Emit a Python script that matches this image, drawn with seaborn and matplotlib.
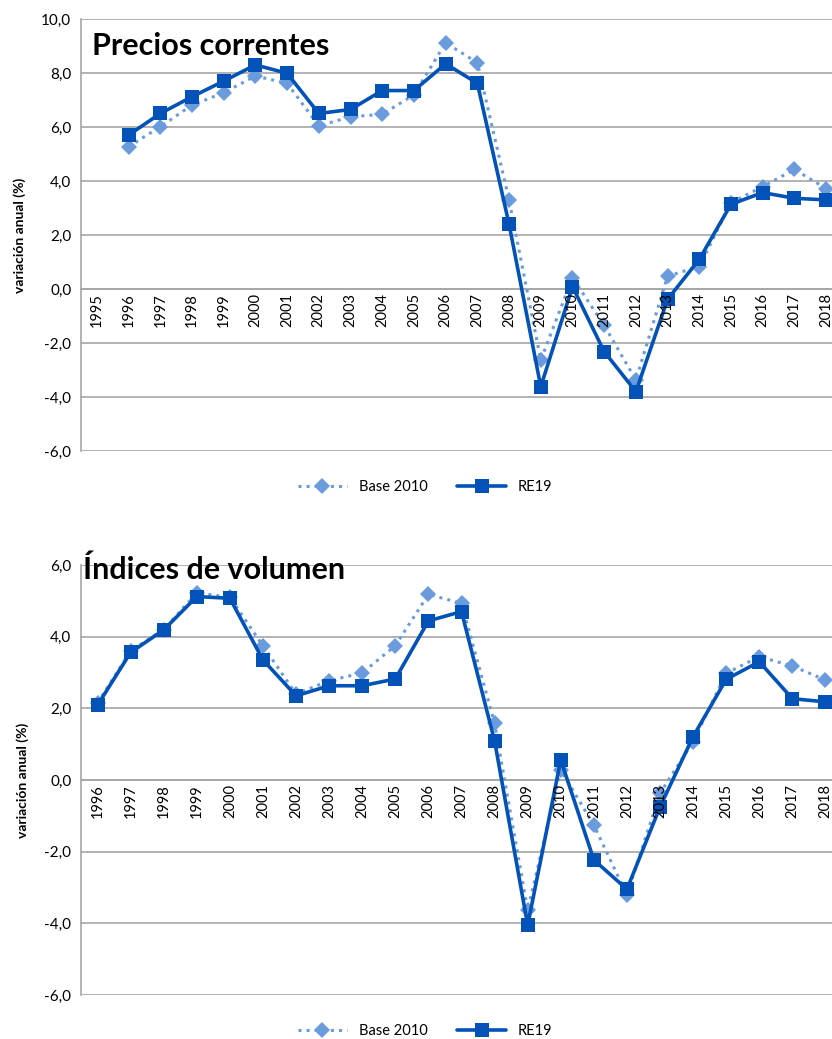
import numpy as np
import pandas as pd
import matplotlib
matplotlib.use('Agg')
import matplotlib.pyplot as plt
from matplotlib.lines import Line2D
from matplotlib.ticker import FuncFormatter
import seaborn as sns

# --- data ---
years_prices = [str(y) for y in range(1995, 2019)]
base2010_prices = [np.nan, 5.27, 6.01, 6.81, 7.27, 7.89, 7.62, 6.04, 6.38, 6.47, 7.19,
                   9.12, 8.38, 3.30, -2.63, 0.42, -1.35, -3.37, 0.48, 0.83, 3.20,
                   3.79, 4.43, 3.72]
re19_prices = [np.nan, 5.70, 6.50, 7.12, 7.70, 8.30, 7.99, 6.50, 6.65, 7.35, 7.35,
               8.34, 7.62, 2.40, -3.62, 0.09, -2.32, -3.80, -0.38, 1.10, 3.14,
               3.57, 3.36, 3.30]

years_volume = [str(y) for y in range(1996, 2019)]
base2010_volume = [2.15, 3.60, 4.20, 5.22, 5.10, 3.74, 2.40, 2.77, 2.99, 3.75, 5.18,
                   4.93, 1.58, -3.63, 0.28, -1.26, -3.21, -0.37, 1.07, 2.98, 3.44,
                   3.18, 2.79]
re19_volume = [2.09, 3.56, 4.19, 5.12, 5.07, 3.35, 2.35, 2.63, 2.63, 2.82, 4.44,
               4.70, 1.09, -4.05, 0.56, -2.23, -3.05, -0.75, 1.21, 2.81, 3.30,
               2.27, 2.18]

C_BASE = '#6A9BDC'
C_RE19 = '#0252B8'
GRID = '#A6A6A6'

sns.set_style('white')
plt.rcParams['font.family'] = ['Lato', 'DejaVu Sans']
plt.rcParams['text.color'] = 'black'
plt.rcParams['axes.labelcolor'] = 'black'
plt.rcParams['ytick.color'] = 'black'

W, H = 832, 1039
fig = plt.figure(figsize=(W / 100, H / 100), dpi=100)


def draw_panel(rect, years, base, re19, ylim, title, title_xy, legend_y):
    ax = fig.add_axes(rect)
    idx = np.arange(len(years))
    df = pd.DataFrame({'pos': idx, 'base': base, 're19': re19})

    sns.lineplot(data=df, x='pos', y='base', ax=ax, color=C_BASE, linestyle=':',
                 linewidth=2.2, marker='D', markersize=8, markeredgewidth=0,
                 sort=False, zorder=3)
    sns.lineplot(data=df, x='pos', y='re19', ax=ax, color=C_RE19, linestyle='-',
                 linewidth=2.6, marker='s', markersize=10, markeredgewidth=0,
                 sort=False, zorder=4)

    ax.set_xlim(-0.5, len(years) - 0.5)
    ax.set_ylim(*ylim)
    ax.set_yticks(np.arange(ylim[0], ylim[1] + 0.1, 2))
    ax.yaxis.set_major_formatter(FuncFormatter(lambda v, p: f'{v:.1f}'.replace('.', ',')))
    ax.grid(axis='y', color=GRID, linewidth=1.2)
    ax.grid(axis='x', visible=False)

    # category axis crossing at zero, tick marks between categories
    ax.spines['bottom'].set_position(('data', 0))
    ax.spines['bottom'].set_color(GRID)
    ax.spines['bottom'].set_linewidth(1.2)
    ax.spines['left'].set_color(GRID)
    ax.spines['left'].set_linewidth(1.2)
    ax.spines['top'].set_visible(False)
    ax.spines['right'].set_visible(False)

    ax.set_xticks(np.arange(-0.5, len(years), 1))
    ax.set_xticklabels([])
    ax.tick_params(axis='x', length=4, color=GRID, width=1.2, direction='out')
    ax.tick_params(axis='y', length=4, color=GRID, width=1.2, direction='out',
                   labelsize=11, labelcolor='black', pad=3)

    # year labels drawn as text so they sit above the lines
    for i, yr in enumerate(years):
        ax.annotate(yr, (i, 0), xytext=(0, -3), textcoords='offset points',
                    rotation=90, ha='center', va='top', fontsize=10.5,
                    color='black', zorder=6, annotation_clip=False)

    ax.set_xlabel('')
    ax.set_ylabel('variación anual (%)', fontsize=10, fontweight='bold', labelpad=11)

    fig.text(title_xy[0] / W, 1 - title_xy[1] / H, title, fontsize=22,
             fontweight='bold', va='center', ha='left', color='black')

    handles = [
        Line2D([], [], color=C_BASE, linestyle=':', linewidth=2.2, marker='D',
               markersize=8, markeredgewidth=0),
        Line2D([], [], color=C_RE19, linestyle='-', linewidth=2.6, marker='s',
               markersize=10, markeredgewidth=0),
    ]
    fig.legend(handles, ['Base 2010', 'RE19'], loc='center', ncol=2, frameon=False,
               fontsize=10.5, handlelength=3.4, columnspacing=2.0,
               bbox_to_anchor=(425 / W, 1 - legend_y / H))
    return ax


left = 81 / W
width = (842 - 81) / W

draw_panel([left, 1 - 451 / H, width, (451 - 19) / H], years_prices,
           base2010_prices, re19_prices, (-6, 10), 'Precios correntes', (92, 46), 487)
draw_panel([left, 1 - 995 / H, width, (995 - 565) / H], years_volume,
           base2010_volume, re19_volume, (-6, 6), 'Índices de volumen', (83, 570), 1031)

fig.savefig('out.png', dpi=100)
